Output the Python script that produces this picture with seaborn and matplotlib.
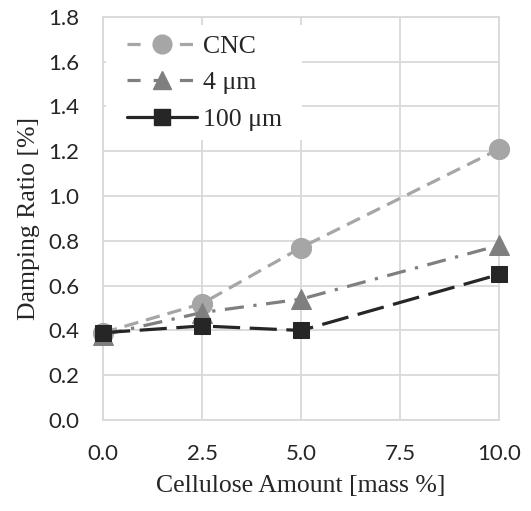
import matplotlib
matplotlib.use("Agg")
import matplotlib.pyplot as plt
from matplotlib.lines import Line2D
from matplotlib.patches import Rectangle
import seaborn as sns
import pandas as pd

x_vals = [0.0, 2.5, 5.0, 10.0]
cnc = [0.39, 0.52, 0.77, 1.21]
um4 = [0.38, 0.48, 0.54, 0.78]
um100 = [0.39, 0.42, 0.40, 0.65]
series_names = ["CNC", "4 μm", "100 μm"]
x_ticks = [0.0, 2.5, 5.0, 7.5, 10.0]
y_ticks = [0.0, 0.2, 0.4, 0.6, 0.8, 1.0, 1.2, 1.4, 1.6, 1.8]

sns.set_theme(style="white")
plt.rcParams['font.family'] = ['Lato', 'DejaVu Sans']

df = pd.DataFrame({
    "x": x_vals * 3,
    "y": cnc + um4 + um100,
    "s": [series_names[0]] * 4 + [series_names[1]] * 4 + [series_names[2]] * 4,
})

fig = plt.figure(figsize=(5.31, 5.11), dpi=100)
ax = fig.add_axes([0.194, 0.178, 0.746, 0.789])

colors = {"CNC": "#a6a6a6", "4 μm": "#7f7f7f", "100 μm": "#262626"}
markers = {"CNC": "o", "4 μm": "^", "100 μm": "s"}
dashes = {"CNC": (4.5, 2.5), "4 μm": (6, 3, 1, 3), "100 μm": (8.5, 3)}
msizes = {"CNC": 14.5, "4 μm": 15, "100 μm": 12}
lw = 2.3

for name in series_names:
    sub = df[df["s"] == name]
    sns.lineplot(data=sub, x="x", y="y", ax=ax, color=colors[name],
                 marker=markers[name], markersize=msizes[name],
                 markeredgecolor=colors[name], linewidth=lw,
                 dashes=False, legend=False, zorder=3)
    line = ax.lines[-1]
    line.set_dashes(dashes[name])
    line.set_clip_on(False)

ax.set_xlim(0, 10)
ax.set_ylim(0, 1.8)
ax.set_xticks(x_ticks)
ax.set_yticks(y_ticks)
ax.set_xticklabels([f"{v:.1f}" for v in x_ticks], fontsize=16)
ax.set_yticklabels([f"{v:.1f}" for v in y_ticks], fontsize=16)
ax.tick_params(axis="x", pad=17, length=0)
ax.tick_params(axis="y", pad=17, length=0)
ax.grid(True, color="#d9d9d9", linewidth=1.3)
ax.set_axisbelow(True)
for sp in ax.spines.values():
    sp.set_color("#d9d9d9")
    sp.set_linewidth(1.3)
ax.set_xlabel("Cellulose Amount [mass %]", family=["Liberation Serif"], fontsize=18.5, labelpad=8)
ax.set_ylabel("Damping Ratio [%]", family=["Liberation Serif"], fontsize=18.5, labelpad=6)

# white legend background covering gridlines
ax.add_patch(Rectangle((0.008, 0.695), 0.494, 0.285, transform=ax.transAxes,
                       facecolor="white", edgecolor="none", zorder=1.5))

leg_dashes = {"CNC": (4.1, 4.1), "4 μm": (4.1, 4.1), "100 μm": None}
leg_ms = {"CNC": 13.5, "4 μm": 13.5, "100 μm": 12}
handles = []
for name in series_names:
    h = Line2D([], [], color=colors[name], marker=markers[name], markersize=leg_ms[name],
               markeredgecolor=colors[name], linewidth=lw)
    if leg_dashes[name] is not None:
        h.set_dashes(leg_dashes[name])
    handles.append(h)

leg = ax.legend(handles, series_names, loc="upper left", frameon=False, handlelength=2.72,
                prop={"family": "Liberation Serif", "size": 18.5},
                bbox_to_anchor=(24 / 396, (420 - 35) / 403), borderaxespad=0, borderpad=0,
                labelspacing=0.52, handletextpad=0.23)
for t in leg.get_texts():
    t.set_family("Liberation Serif")
    t.set_fontsize(18.5)

fig.savefig("out.png", dpi=100)
